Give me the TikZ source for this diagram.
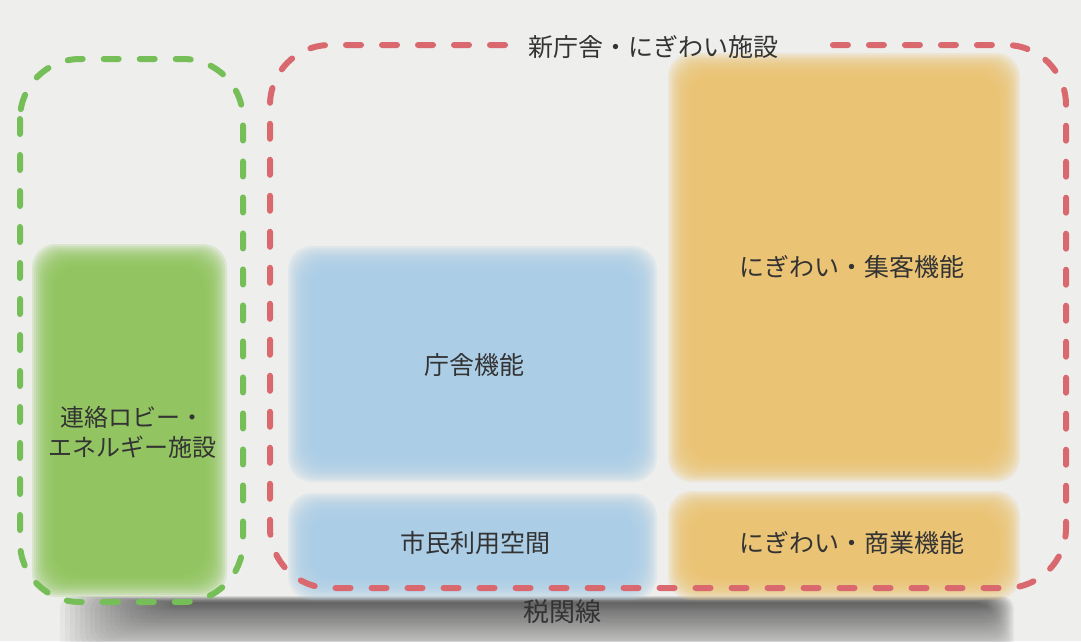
\documentclass[tikz,border=0pt]{standalone}
\usepackage{fontspec}
\newfontfamily\jp{Noto Sans CJK JP}
\definecolor{bg}{HTML}{EEEEEC}
\definecolor{gfill}{HTML}{8DC45A}
\definecolor{bfill}{HTML}{A9CDE6}
\definecolor{ofill}{HTML}{EAC26E}
\definecolor{reddash}{HTML}{D9696F}
\definecolor{greendash}{HTML}{76BE58}
\definecolor{shade}{HTML}{8A8A8A}
\definecolor{ink}{HTML}{333333}
\newcommand\softbox[5]{%
  \foreach \k in {0,...,11}{%
    \fill[#5,opacity=0.2,rounded corners=24pt]
      ({#1-12+2*\k},{#2-12+2*\k}) rectangle ({#3+12-2*\k},{#4+12-2*\k});}}
\begin{document}
\begin{tikzpicture}[x=1pt,y=-1pt,
  lbl/.style={font=\jp\fontsize{25}{30}\selectfont, text=ink, align=center, inner sep=0pt},
  container/.style={line width=6pt, line cap=round, dash pattern=on 15pt off 21pt, rounded corners=60pt}]
\useasboundingbox (0,0) rectangle (1081,641);
\fill[bg] (0,0) rectangle (1081,641);
% shadow band
\foreach \k in {0,...,23}{%
  \fill[shade,opacity=0.028,rounded corners=12pt]
    ({60+5*\k},{596+0.3*\k}) rectangle ({1014-1.2*\k},{655-2*\k});}
% soft boxes
\softbox{44}{256}{215}{585}{gfill}
\softbox{300}{258}{645}{470}{bfill}
\softbox{300}{505}{645}{588}{bfill}
\softbox{680}{65}{1008}{470}{ofill}
\softbox{680}{503}{1008}{588}{ofill}
% containers
\draw[container, greendash] (20,59) rectangle (243,602);
\draw[container, reddash] (505,45) -- (270,45) -- (270,588) -- (1066,588) -- (1066,45) -- (815,45);
% labels
\node[lbl] (title) at (653,47) {新庁舎・にぎわい施設};
\node[lbl, font=\jp\fontsize{24}{30}\selectfont] (lobby) at (132,432) {連絡ロビー・\\エネルギー施設};
\node[lbl] (chosha) at (474,365) {庁舎機能};
\node[lbl] (shimin) at (475,543) {市民利用空間};
\node[lbl] (shukyaku) at (852,267) {にぎわい・集客機能};
\node[lbl] (shogyo) at (852,543) {にぎわい・商業機能};
\node[lbl, font=\jp\fontsize{26}{30}\selectfont] (zeikan) at (562,612) {税関線};
\end{tikzpicture}
\end{document}
